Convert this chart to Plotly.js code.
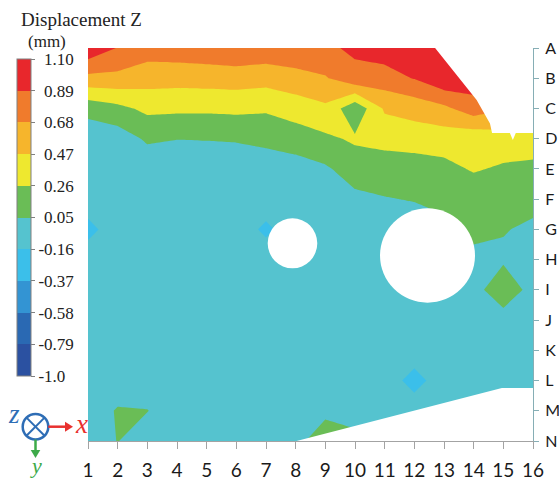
<!DOCTYPE html>
<html><head><meta charset="utf-8">
<script src="https://cdn.plot.ly/plotly-3.0.1.min.js"></script>
<style>html,body{margin:0;padding:0;background:#fff}#chart{width:559px;height:480px}</style>
</head><body><div id="chart"></div>
<script>
// ---- data ----
const colNums = [1,2,3,4,5,6,7,8,9,10,11,12,13,14,15,16];
const rowLabels = ['A','B','C','D','E','F','G','H','I','J','K','L','M','N'];
const rowIndex = rowLabels.map((_, i) => i);

const zA = [1.05, 0.88, 0.78, 0.80, 0.82, 0.85, 0.82, 0.84, 0.86, 0.92, 1.00, 1.05, 1.08, 1.08, 1.08, 1.08];
const zB = [0.62, 0.62, 0.56, 0.55, 0.56, 0.57, 0.55, 0.60, 0.66, 0.84, 0.80, 0.90, 1.06, 1.00, 1.00, 1.00];
const zC = [0.12, 0.20, 0.31, 0.30, 0.30, 0.31, 0.29, 0.36, 0.43, 0.10, 0.50, 0.55, 0.63, 0.80, 0.70, 0.70];
const zD = [-0.08, -0.06, 0.08, 0.055, 0.06, 0.07, 0.10, 0.15, 0.22, 0.29, 0.33, 0.36, 0.36, 0.32, 0.38, 0.35];
const zE = [-0.05, -0.05, -0.08, -0.08, -0.08, -0.08, -0.06, -0.04, 0.02, 0.15, 0.15, 0.15, 0.20, 0.28, 0.23, 0.22];
const zF = [-0.05, -0.05, -0.05, -0.05, -0.05, -0.05, -0.05, -0.05, -0.05, 0.00, 0.04, 0.06, 0.10, 0.12, 0.10, 0.10];
const zG = [-0.22, -0.05, -0.05, -0.05, -0.05, -0.05, -0.20, -0.05, -0.05, -0.05, -0.05, -0.05, 0.00, 0.08, 0.06, 0.02];
const zH = [-0.05, -0.05, -0.05, -0.05, -0.05, -0.05, -0.05, -0.05, -0.05, -0.05, -0.05, -0.05, -0.05, 0.02, 0.02, -0.05];
const zI = [-0.05, -0.05, -0.05, -0.05, -0.05, -0.05, -0.05, -0.05, -0.05, -0.05, -0.05, -0.05, -0.05, -0.03, 0.20, -0.03];
const zJ = [-0.05, -0.05, -0.05, -0.05, -0.05, -0.05, -0.05, -0.05, -0.05, -0.05, -0.05, -0.05, -0.05, -0.05, -0.05, -0.05];
const zK = [-0.05, -0.05, -0.05, -0.05, -0.05, -0.05, -0.05, -0.05, -0.05, -0.05, -0.05, -0.05, -0.05, -0.05, -0.05, -0.05];
const zL = [-0.05, -0.05, -0.05, -0.05, -0.05, -0.05, -0.05, -0.05, -0.05, -0.05, -0.05, -0.235, -0.05, -0.05, -0.05, -0.05];
const zM = [-0.05, 0.065, 0.055, -0.05, -0.05, -0.05, -0.05, -0.05, 0.01, -0.02, -0.05, -0.05, -0.05, -0.05, -0.05, -0.05];
const zN = [-0.05, 0.055, -0.05, -0.05, -0.05, -0.05, -0.05, 0.00, 0.15, 0.10, -0.05, -0.05, -0.05, -0.05, -0.05, -0.05];

const levelValues = [-1.0, -0.79, -0.58, -0.37, -0.16, 0.05, 0.26, 0.47, 0.68, 0.89, 1.10];
const levelLabels = ['-1.0', '-0.79', '-0.58', '-0.37', '-0.16', '0.05', '0.26', '0.47', '0.68', '0.89', '1.10'];
const bandColors = ['#2b51a1', '#2a69b3', '#3394d3', '#3bbfea', '#55c3cf', '#6abd56', '#eee82f', '#f6b52c', '#f07b2c', '#e8272c'];

// white masks (un-measured regions and holes), in data units
const holes = [
  {cx: 7.893, cy: 6.46, rx: 0.836, ry: 0.827},
  {cx: 12.444, cy: 6.864, rx: 1.601, ry: 1.561}
];
const topCut = [[12.70,-0.5],[12.70,0],[14.10,1.72],[14.55,2.5],[14.62,2.81],[15.22,2.81],[15.32,3.04],[15.42,2.81],[16.5,2.81],[16.5,-0.5]];
const bottomCut = [[8.03,13.5],[8.03,13],[14.95,11.25],[16.5,11.25],[16.5,13.5]];

// ---- build ----
const z = [zA, zB, zC, zD, zE, zF, zG, zH, zI, zJ, zK, zL, zM, zN];
const nb = bandColors.length;
const colorscale = [];
bandColors.forEach((c, i) => { colorscale.push([i / nb, c]); colorscale.push([(i + 1) / nb, c]); });

const M = {l: 88, r: 26, t: 48, b: 39};
const W = 559 - M.l - M.r, H = 480 - M.t - M.b;
const px = v => (v - M.l) / W;
const py = v => (480 - M.b - v) / H;

const ticksPos = levelLabels.map(s => s.startsWith('-') ? s : '\u2004' + s);

const trace = {
  type: 'contour',
  x: colNums, y: rowIndex, z: z,
  zmin: levelValues[0], zmax: levelValues[levelValues.length - 1],
  autocontour: false,
  contours: {start: levelValues[0], end: levelValues[levelValues.length - 1], size: 0.21, coloring: 'fill', showlines: false},
  line: {width: 0, smoothing: 0},
  colorscale: colorscale,
  hoverinfo: 'skip',
  colorbar: {
    x: px(17), xanchor: 'left', xpad: 0, y: py((59 + 376) / 2), yanchor: 'middle', ypad: 0,
    thickness: 14, thicknessmode: 'pixels', len: 317, lenmode: 'pixels',
    outlinewidth: 1, outlinecolor: '#808080',
    tickmode: 'array', tickvals: levelValues, ticktext: ticksPos,
    ticks: 'outside', ticklen: 4, tickcolor: '#808080', tickwidth: 1,
    tickfont: {family: 'Liberation Serif', size: 17, color: '#222'}
  }
};

const shapes = [];
holes.forEach(h => shapes.push({type: 'circle', xref: 'x', yref: 'y', x0: h.cx - h.rx, x1: h.cx + h.rx, y0: h.cy - h.ry, y1: h.cy + h.ry, fillcolor: '#ffffff', line: {width: 0}, layer: 'above'}));
const polyPath = pts => 'M ' + pts.map(p => p[0] + ',' + p[1]).join(' L ') + ' Z';
shapes.push({type: 'path', xref: 'x', yref: 'y', path: polyPath(topCut), fillcolor: '#ffffff', line: {width: 0}, layer: 'above'});
shapes.push({type: 'path', xref: 'x', yref: 'y', path: polyPath(bottomCut), fillcolor: '#ffffff', line: {width: 0}, layer: 'above'});

// coordinate-system glyph (bottom left)
const blue = '#2e6db5', red = '#e8312f', green = '#3daa4a';
const cx0 = 35.5, cy0 = 426.7, cr = 12.8;
shapes.push({type: 'circle', xref: 'paper', yref: 'paper', x0: px(cx0 - cr), x1: px(cx0 + cr), y0: py(cy0 + cr), y1: py(cy0 - cr), line: {color: blue, width: 2.5}, fillcolor: 'rgba(0,0,0,0)'});
const d = cr * 0.707;
shapes.push({type: 'line', xref: 'paper', yref: 'paper', x0: px(cx0 - d), y0: py(cy0 - d), x1: px(cx0 + d), y1: py(cy0 + d), line: {color: blue, width: 2}});
shapes.push({type: 'line', xref: 'paper', yref: 'paper', x0: px(cx0 - d), y0: py(cy0 + d), x1: px(cx0 + d), y1: py(cy0 - d), line: {color: blue, width: 2}});
shapes.push({type: 'line', xref: 'paper', yref: 'paper', x0: px(cx0 + cr), y0: py(cy0), x1: px(67), y1: py(cy0), line: {color: red, width: 2.5}});
shapes.push({type: 'path', xref: 'paper', yref: 'paper', path: `M ${px(73)},${py(cy0)} L ${px(65)},${py(cy0 - 5)} L ${px(65)},${py(cy0 + 5)} Z`, fillcolor: red, line: {width: 0}});
shapes.push({type: 'line', xref: 'paper', yref: 'paper', x0: px(cx0), y0: py(cy0 + cr), x1: px(cx0), y1: py(452), line: {color: green, width: 2.5}});
shapes.push({type: 'path', xref: 'paper', yref: 'paper', path: `M ${px(cx0)},${py(458)} L ${px(cx0 - 4.8)},${py(450)} L ${px(cx0 + 4.8)},${py(450)} Z`, fillcolor: green, line: {width: 0}});

const ann = (text, x, y, size, color, xanchor) => ({
  text: text, xref: 'paper', yref: 'paper', x: px(x), y: py(y), xanchor: xanchor || 'center', yanchor: 'middle',
  showarrow: false, font: {family: 'Liberation Serif', size: size, color: color}, borderpad: 0
});
const annotations = [
  ann('Displacement Z', 19.5, 19.5, 19, '#222', 'left'),
  ann('(mm)', 27, 42, 17, '#222', 'left'),
  ann('<i>z</i>', 14, 414, 27, blue),
  ann('<i>x</i>', 81.5, 424, 27, red),
  ann('<i>y</i>', 36, 465, 22, green)
];

const layout = {
  width: 559, height: 480,
  margin: M,
  paper_bgcolor: '#fff', plot_bgcolor: '#fff',
  showlegend: false,
  xaxis: {
    range: [1, 16], tickmode: 'array', tickvals: colNums, ticktext: colNums.map(String),
    showgrid: false, zeroline: false, showline: true, linecolor: '#a3a3a3', linewidth: 1,
    ticks: 'outside', ticklen: 7, tickcolor: '#a3a3a3',
    tickfont: {family: 'Lato', size: 19, color: '#1a1a1a'}, ticklabelstandoff: 5, fixedrange: true
  },
  yaxis: {
    range: [13, 0], side: 'right', tickmode: 'array', tickvals: rowIndex, ticktext: rowLabels,
    showgrid: false, zeroline: false, showline: true, linecolor: '#86aeb5', linewidth: 1,
    ticks: 'outside', ticklen: 5, tickcolor: '#86aeb5',
    tickfont: {family: 'Lato', size: 16, color: '#1a1a1a'}, ticklabelstandoff: 3, fixedrange: true
  },
  shapes: shapes,
  annotations: annotations
};

Plotly.newPlot('chart', [trace], layout, {displayModeBar: false, staticPlot: true});
</script>
</body></html>
